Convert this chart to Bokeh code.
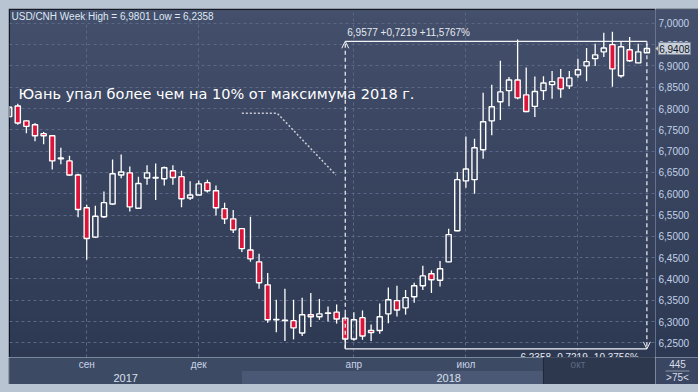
import numpy as np
import pandas as pd
from bokeh.plotting import figure
from bokeh.layouts import column, row
from bokeh.models import (Range1d, SingleIntervalTicker, FixedTicker, Grid, Spacer,
                          Arrow, OpenHead, ColumnDataSource)
from bokeh.core.properties import value
from bokeh.embed import file_html
from bokeh.resources import INLINE

# ---------------- data (weekly USD/CNH candles) ----------------
opens = [6.781, 6.806, 6.771, 6.762, 6.741, 6.736, 6.682, 6.677, 6.644, 6.567,
         6.498, 6.546, 6.576, 6.644, 6.649, 6.566, 6.637, 6.637, 6.635, 6.654,
         6.640, 6.590, 6.597, 6.626, 6.607, 6.565, 6.541, 6.518, 6.468, 6.440,
         6.386, 6.304, 6.303, 6.302, 6.273, 6.316, 6.311, 6.319, 6.322, 6.308,
         6.259, 6.309, 6.279, 6.279, 6.318, 6.349, 6.332, 6.358, 6.384, 6.412,
         6.397, 6.440, 6.513, 6.630, 6.633, 6.703, 6.771, 6.816, 6.842, 6.867,
         6.832, 6.805, 6.842, 6.856, 6.872, 6.853, 6.879, 6.900, 6.917, 6.933,
         6.950, 6.877, 6.938, 6.907, 6.931]
highs = [6.806, 6.811, 6.773, 6.766, 6.745, 6.738, 6.708, 6.689, 6.647, 6.574,
         6.572, 6.605, 6.680, 6.692, 6.664, 6.640, 6.667, 6.671, 6.664, 6.667,
         6.654, 6.629, 6.631, 6.633, 6.619, 6.579, 6.562, 6.519, 6.546, 6.459,
         6.414, 6.351, 6.377, 6.351, 6.356, 6.367, 6.353, 6.335, 6.340, 6.319,
         6.322, 6.326, 6.293, 6.342, 6.380, 6.384, 6.374, 6.391, 6.431, 6.420,
         6.442, 6.518, 6.651, 6.734, 6.729, 6.837, 6.856, 6.912, 6.874, 6.962,
         6.896, 6.875, 6.876, 6.888, 6.893, 6.888, 6.917, 6.942, 6.952, 6.978,
         6.9801, 6.957, 6.968, 6.952, 6.952]
lows = [6.779, 6.762, 6.742, 6.723, 6.716, 6.657, 6.669, 6.642, 6.545, 6.445,
        6.496, 6.543, 6.574, 6.636, 6.558, 6.564, 6.621, 6.585, 6.619, 6.621,
        6.568, 6.585, 6.596, 6.603, 6.549, 6.529, 6.508, 6.463, 6.440, 6.377,
        6.297, 6.275, 6.254, 6.258, 6.266, 6.287, 6.304, 6.300, 6.295, 6.2358,
        6.255, 6.257, 6.254, 6.271, 6.296, 6.312, 6.316, 6.344, 6.374, 6.367,
        6.382, 6.439, 6.512, 6.614, 6.600, 6.682, 6.737, 6.773, 6.805, 6.822,
        6.791, 6.780, 6.820, 6.823, 6.825, 6.846, 6.872, 6.864, 6.900, 6.921,
        6.851, 6.872, 6.910, 6.906, 6.930]
closes = [6.803, 6.766, 6.758, 6.736, 6.736, 6.677, 6.684, 6.644, 6.563, 6.495,
          6.547, 6.579, 6.647, 6.651, 6.569, 6.624, 6.649, 6.638, 6.661, 6.638,
          6.588, 6.597, 6.623, 6.607, 6.567, 6.541, 6.515, 6.471, 6.447, 6.391,
          6.304, 6.305, 6.302, 6.285, 6.316, 6.311, 6.318, 6.320, 6.306, 6.259,
          6.304, 6.266, 6.274, 6.311, 6.351, 6.327, 6.356, 6.384, 6.407, 6.398,
          6.424, 6.504, 6.633, 6.658, 6.708, 6.769, 6.804, 6.839, 6.867, 6.825,
          6.793, 6.840, 6.860, 6.863, 6.846, 6.872, 6.891, 6.910, 6.926, 6.942,
          6.893, 6.945, 6.912, 6.933, 6.9408]

first_week = "2017-06-25"
tick_months = ["2017-09", "2017-12", "2018-04", "2018-07", "2018-10"]
month_labels = ["сен", "дек", "апр", "июл", "окт"]
years = ["2017", "2018"]
symbol = "USD/CNH"
note_text = "Юань упал более чем на 10% от максимума 2018 г."
measure_high = 6.9577
price_step = 0.05
corner_texts = ["445", ">75<"]

# ---------------- derived ----------------
o = np.array(opens); h = np.array(highs); l = np.array(lows); c = np.array(closes)
n = len(o)
x = np.arange(n)
week_start = pd.date_range(first_week, periods=n, freq="7D")


def week_index(date_str):
    return int((pd.Timestamp(date_str) - week_start[0]).days // 7)


def fmt(v):
    return f"{v:.4f}".replace(".", ",")


month_idx = [week_index(m + "-01") for m in tick_months]
year_idx = week_index(years[1] + "-01-01")

X_LO, X_HI = 0.04, 75.0
Y_LO, Y_HI = 6.2155, 7.0324
NAV_START = 62
PANEL_W = 43
FRAME_LINE = "#1c2331"
LIGHT = "#b9c4d3"

top = np.maximum(o, c)
bot = np.minimum(o, c)
up = c >= o
src_all = ColumnDataSource(dict(x=x, h=h, l=l, top=top, bot=bot))
src_up = ColumnDataSource(dict(x=x[up], top=top[up], bot=bot[up]))
src_dn = ColumnDataSource(dict(x=x[~up], top=top[~up], bot=bot[~up]))

FONT = value("Liberation Sans")

# vertical gradient image (bottom row first)
nrow = 160
t = np.linspace(0.0, 1.0, nrow)
c_bot = np.array([0x2d, 0x38, 0x52], dtype=float)
c_top = np.array([0x43, 0x4f, 0x6b], dtype=float)
img = np.zeros((nrow, 1), dtype=np.uint32)
view = img.view(dtype=np.uint8).reshape((nrow, 1, 4))
for k in range(3):
    view[:, 0, k] = np.round(c_bot[k] + (c_top[k] - c_bot[k]) * t).astype(np.uint8)
view[:, 0, 3] = 255

# ---------------- main chart ----------------
p = figure(width=647, height=349, x_range=Range1d(X_LO, X_HI), y_range=Range1d(Y_LO, Y_HI),
           output_backend="svg", toolbar_location=None,
           x_axis_location=None, y_axis_location=None,
           min_border_left=1, min_border_right=0, min_border_top=1, min_border_bottom=0,
           background_fill_color="#37435e", border_fill_color=FRAME_LINE,
           outline_line_color="#05070a", outline_line_width=1)
p.image_rgba(image=[img], x=X_LO, y=Y_LO, dw=X_HI - X_LO, dh=Y_HI - Y_LO, level="image")

p.xgrid.visible = False
p.ygrid.visible = False
yticker = SingleIntervalTicker(interval=price_step, num_minor_ticks=0)
p.add_layout(Grid(dimension=1, ticker=yticker, grid_line_color="#5b6885",
                  grid_line_dash="3 3", grid_line_width=1))
p.add_layout(Grid(dimension=0, ticker=FixedTicker(ticks=month_idx), grid_line_color="#5b6885",
                  grid_line_dash="3 3", grid_line_width=1))

# candles
p.segment(x0="x", y0="h", x1="x", y1="top", source=src_all, line_color="white", line_width=1.3)
p.segment(x0="x", y0="bot", x1="x", y1="l", source=src_all, line_color="white", line_width=1.3)
p.vbar(x="x", width=0.6, top="top", bottom="bot", source=src_up,
       fill_color=None, line_color="white", line_width=1.4)
p.vbar(x="x", width=0.6, top="top", bottom="bot", source=src_dn,
       fill_color="#dc1439", line_color="white", line_width=1.4)

# measurement tool
i_lo = int(np.argmin(l))
i_end = n - 1
lo = float(l[i_lo])
hi = measure_high
diff = hi - lo
top_text = f"{fmt(hi)} +{fmt(diff)} +{fmt(diff / lo * 100)}%"
bot_text = f"{fmt(lo)} -{fmt(diff)} -{fmt(diff / hi * 100)}%"
p.segment(x0=[i_lo, i_lo], y0=[lo, hi], x1=[i_end, i_end], y1=[lo, hi],
          line_color="#f2f4f8", line_width=1.2)
p.add_layout(Arrow(x_start=i_lo, y_start=lo, x_end=i_lo, y_end=hi,
                   end=OpenHead(size=7, line_color="#f2f4f8", line_width=1),
                   line_color="#f2f4f8", line_width=1.2, line_dash="4 3"))
p.add_layout(Arrow(x_start=i_end, y_start=hi, x_end=i_end, y_end=lo,
                   end=OpenHead(size=7, line_color="#f2f4f8", line_width=1),
                   line_color="#f2f4f8", line_width=1.2, line_dash="4 3"))
p.text(x=[i_lo], y=[hi], text=[top_text], text_baseline="bottom", x_offset=2, y_offset=-3,
       text_font=FONT, text_font_size="10px", text_color="#e4e9f0")
p.text(x=[i_end], y=[lo], text=[bot_text], text_align="right", text_baseline="top",
       x_offset=-8, y_offset=3, text_font=FONT, text_font_size="10px", text_color="#e4e9f0")

# title
title = f"{symbol} Week High = {fmt(h.max())} Low = {fmt(l.min())}"
p.text(x=[X_LO], y=[Y_HI], text=[title], text_baseline="top", x_offset=2, y_offset=1,
       text_font=FONT, text_font_size="10px", text_color="#dfe7f3")

# big note + dotted callout
note_x, note_y = 1.08, 6.833
p.text(x=[note_x], y=[note_y], text=[note_text], text_baseline="alphabetic",
       text_font=value("DejaVu Sans"), text_font_size="14.5px", text_color="white")
callout_x = [27.0, 31.1, 37.9]
callout_y = [6.789, 6.789, 6.644]
p.line(x=callout_x, y=callout_y, line_color="#c9ccd2", line_width=1.5, line_dash="2 2")

# ---------------- price scale panel ----------------
rp = figure(width=PANEL_W, height=349, x_range=Range1d(0, PANEL_W), y_range=p.y_range,
            output_backend="svg", toolbar_location=None,
            x_axis_location=None, y_axis_location=None,
            min_border_left=0, min_border_right=0, min_border_top=1, min_border_bottom=0,
            background_fill_color="#37435e", border_fill_color=FRAME_LINE,
            outline_line_color=None)
rp.xgrid.visible = False
rp.ygrid.visible = False
rp.image_rgba(image=[img], x=0, y=Y_LO, dw=PANEL_W, dh=Y_HI - Y_LO, level="image")
ticks = np.arange(np.ceil(Y_LO / price_step) * price_step, Y_HI, price_step)
rp.text(x=[3] * len(ticks), y=ticks, text=[fmt(v) for v in ticks], text_align="left",
        text_baseline="middle", text_font=FONT, text_font_size="10px", text_color="#c2d3ea")
last = float(c[-1])
rp.scatter(x=[3], y=[last], marker="triangle", angle=np.pi / 2, size=7,
           fill_color="#c8d0db", line_color="#7d8899")
rp.rect(x=[19], y=[last], width=32, height=12, width_units="screen", height_units="screen",
        fill_color="#c8d0db", line_color="#7d8899", line_width=1)
rp.text(x=[19], y=[last], text=[fmt(last)], text_align="center", text_baseline="middle",
        text_font=FONT, text_font_size="10px", text_color="#10151d")

# ---------------- time axis strip ----------------
s = figure(width=647, height=27, x_range=p.x_range, y_range=Range1d(0, 2),
           output_backend="svg", toolbar_location=None,
           x_axis_location=None, y_axis_location=None,
           min_border_left=1, min_border_right=0, min_border_top=0, min_border_bottom=0,
           background_fill_color="#3d4a64", border_fill_color=FRAME_LINE,
           outline_line_color=None)
s.xgrid.visible = False
s.ygrid.visible = False
s.quad(left=[year_idx], right=[NAV_START], bottom=[0], top=[1],
       fill_color="#4a5875", line_color=None)
s.quad(left=[NAV_START], right=[X_HI], bottom=[0], top=[2],
       fill_color="#2d384f", line_color="#1f2838", line_width=1)
m_colors = ["#5d6a82" if m >= NAV_START else "#c8d4e8" for m in month_idx]
s.text(x=month_idx, y=[1.5] * len(month_idx), text=month_labels, text_align="center",
       text_baseline="middle", text_font=FONT, text_font_size="10px", text_color=m_colors)
year_centers = [(X_LO + year_idx) / 2, (year_idx + X_HI) / 2]
s.text(x=year_centers, y=[0.5, 0.5], text=years, text_align="center",
       text_baseline="middle", text_font=FONT, text_font_size="11px", text_color="#d8e0ec")

# ---------------- corner ----------------
cp = figure(width=PANEL_W, height=27, x_range=Range1d(0, PANEL_W), y_range=Range1d(0, 2),
            output_backend="svg", toolbar_location=None,
            x_axis_location=None, y_axis_location=None,
            min_border_left=0, min_border_right=0, min_border_top=0, min_border_bottom=0,
            background_fill_color="#3a4661", outline_line_color=None)
cp.xgrid.visible = False
cp.ygrid.visible = False
cp.segment(x0=[10], y0=[1], x1=[34], y1=[1], line_color="#8a95a8", line_width=1)
cp.text(x=[22, 22], y=[1.5, 0.5], text=corner_texts, text_align="center",
        text_baseline="middle", text_font=FONT, text_font_size="10px", text_color="#d8dee8")

# ---------------- assemble ----------------
body = column(row(p, rp, spacing=0), row(s, cp, spacing=0), spacing=0)
root = column(Spacer(width=698, height=8), row(Spacer(width=8, height=376), body, spacing=0),
              Spacer(width=698, height=8), spacing=0,
              styles={"background-color": LIGHT})
html = file_html(root, INLINE)
open("out.html", "w").write(html)
